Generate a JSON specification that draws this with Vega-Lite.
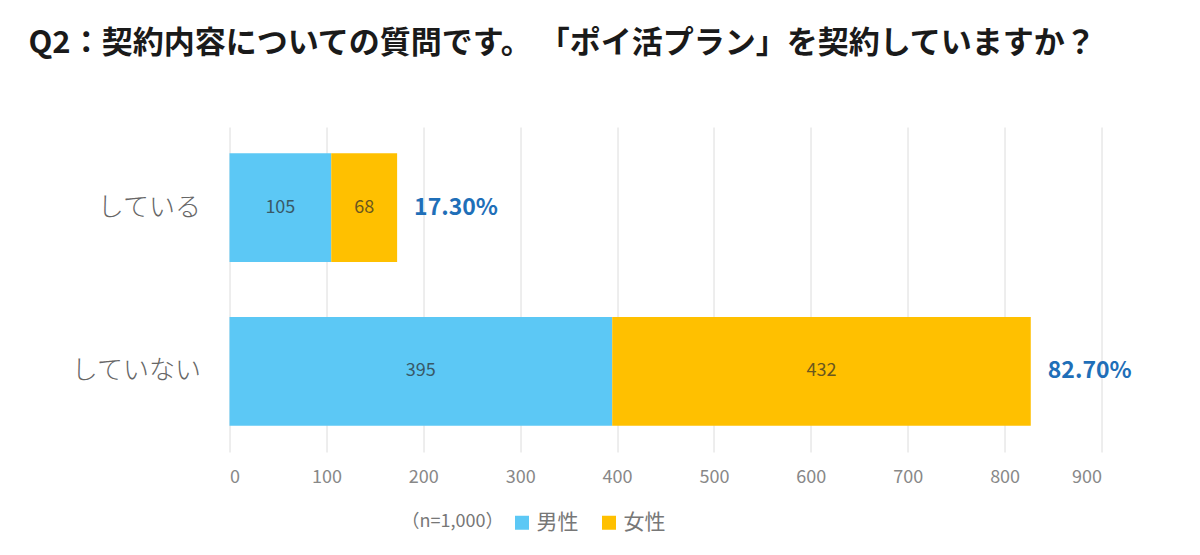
{
  "$schema": "https://vega.github.io/schema/vega-lite/v6.json",
  "width": 872,
  "height": 325,
  "autosize": {"type": "none"},
  "padding": {"left": 229.5, "top": 127, "right": 98.5, "bottom": 103},
  "background": "white",
  "config": {
    "view": {"stroke": null},
    "font": "Noto Sans CJK JP"
  },
  "title": {
    "text": "Q2：契約内容についての質問です。 「ポイ活プラン」を契約していますか？",
    "anchor": "start",
    "frame": "group",
    "dx": -201,
    "offset": 67,
    "fontSize": 31,
    "fontWeight": "bold",
    "color": "#1a1a1a",
    "font": "Noto Sans CJK JP"
  },
  "datasets": {
    "counts": [
      {"answer": "している", "gender": "男性", "count": 105},
      {"answer": "している", "gender": "女性", "count": 68},
      {"answer": "していない", "gender": "男性", "count": 395},
      {"answer": "していない", "gender": "女性", "count": 432}
    ],
    "totals": [
      {"answer": "している", "total": 173, "pct": "17.30%"},
      {"answer": "していない", "total": 827, "pct": "82.70%"}
    ]
  },
  "layer": [
    {
      "data": {"name": "counts"},
      "mark": {"type": "bar"},
      "encoding": {
        "y": {
          "field": "answer",
          "type": "nominal",
          "sort": ["している", "していない"],
          "scale": {"paddingInner": 0.337, "paddingOuter": 0.16},
          "axis": {
            "title": null,
            "domain": false,
            "ticks": false,
            "labelFontSize": 26,
            "labelColor": "#666666",
            "labelPadding": 29,
            "labelFontWeight": 300,
            "labelFont": "Noto Sans CJK JP"
          }
        },
        "x": {
          "field": "count",
          "type": "quantitative",
          "stack": "zero",
          "scale": {"domain": [0, 900], "nice": false},
          "axis": {
            "title": null,
            "values": [0, 100, 200, 300, 400, 500, 600, 700, 800, 900],
            "domain": false,
            "ticks": false,
            "grid": true,
            "gridColor": "#dcdcdc",
            "gridWidth": 1,
            "labelFontSize": 18,
            "labelColor": "#888888",
            "labelPadding": 16,
            "labelFont": "Noto Sans CJK JP"
          }
        },
        "color": {
          "field": "gender",
          "type": "nominal",
          "scale": {"domain": ["男性", "女性"], "range": ["#5CC8F5", "#FFC000"]},
          "legend": {
            "title": "（n=1,000）",
            "orient": "none",
            "direction": "horizontal",
            "titleOrient": "left",
            "legendX": 172,
            "legendY": 385,
            "titleFontSize": 18,
            "titleFontWeight": "normal",
            "titleColor": "#777777",
            "titleFont": "Noto Sans CJK JP",
            "titlePadding": 8,
            "symbolType": "square",
            "symbolSize": 196,
            "symbolStrokeWidth": 0,
            "labelFontSize": 21,
            "labelColor": "#777777",
            "labelFont": "Noto Sans CJK JP",
            "labelOffset": 4,
            "columnPadding": 20
          }
        },
        "order": {"field": "gender", "sort": "descending"}
      }
    },
    {
      "data": {"name": "counts"},
      "mark": {"type": "text", "fontSize": 18, "color": "#2b2b2b", "opacity": 0.7, "font": "Noto Sans CJK JP"},
      "encoding": {
        "y": {"field": "answer", "type": "nominal", "sort": ["している", "していない"]},
        "x": {"field": "count", "type": "quantitative", "stack": "zero", "bandPosition": 0.5},
        "order": {"field": "gender", "sort": "descending"},
        "detail": {"field": "gender"},
        "text": {"field": "count", "type": "quantitative"}
      }
    },
    {
      "data": {"name": "totals"},
      "mark": {"type": "text", "align": "left", "dx": 17, "fontSize": 23, "fontWeight": "bold", "color": "#1F6FB8", "font": "Noto Sans CJK JP"},
      "encoding": {
        "y": {"field": "answer", "type": "nominal", "sort": ["している", "していない"]},
        "x": {"field": "total", "type": "quantitative"},
        "text": {"field": "pct"}
      }
    }
  ]
}
